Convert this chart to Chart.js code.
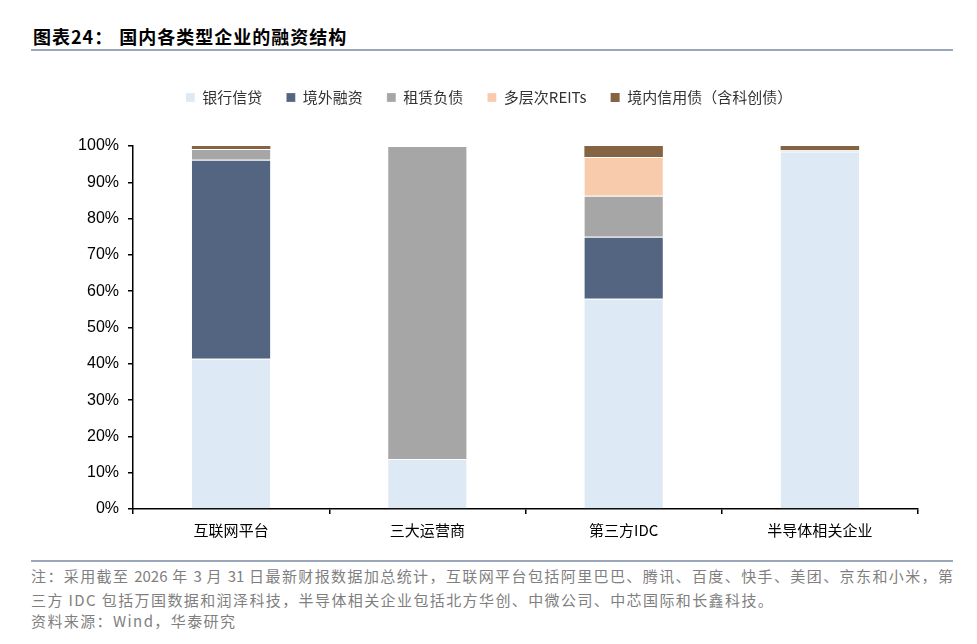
<!DOCTYPE html>
<html lang="zh-CN">
<head>
<meta charset="utf-8">
<title>国内各类型企业的融资结构</title>
<script src="https://cdn.jsdelivr.net/npm/chart.js@4.4.1/dist/chart.umd.min.js"></script>
<style>
    html, body { margin: 0; padding: 0; background: #fff; }
    body { width: 977px; height: 644px; position: relative; overflow: hidden; font-family: 'Noto Sans CJK SC', sans-serif; }
    .title { position: absolute; left: 33px; top: 23px; font-size: 18px; font-weight: 700; color: #000; white-space: nowrap; letter-spacing: 1px; }
    .title .gap { display: inline-block; width: 6px; }
    .rule { position: absolute; left: 31px; width: 922px; height: 2px; background: #9ba6b8; }
    .chart-box { position: absolute; left: 0; top: 80px; width: 977px; height: 480px; }
    .note { position: absolute; left: 31px; width: 922px; font-size: 15px; color: #7f7f7f; white-space: nowrap; letter-spacing: 1.4px; line-height: 20px; }
    .note.full { text-align: justify; text-align-last: justify; letter-spacing: 0; }
</style>
</head>
<body>
<div class="title">图表24：<span class="gap"></span>国内各类型企业的融资结构</div>
<div class="rule" style="top:49px"></div>
<div class="chart-box"><canvas id="structureChart"></canvas></div>
<div class="rule" style="top:560px"></div>
<div class="note full" style="top:566px">注：采用截至 2026 年 3 月 31 日最新财报数据加总统计，互联网平台包括阿里巴巴、腾讯、百度、快手、美团、京东和小米，第</div>
<div class="note" style="top:590px">三方 IDC 包括万国数据和润泽科技，半导体相关企业包括北方华创、中微公司、中芯国际和长鑫科技。</div>
<div class="note" style="top:611px">资料来源：Wind，华泰研究</div>

<script>
// 各类企业（横轴）
const categories = ['互联网平台', '三大运营商', '第三方IDC', '半导体相关企业'];
// 各融资渠道占比（%）
const bankCredit   = [41.4, 13.8, 57.9, 98.5];
const overseas     = [54.8, 0,    17.1, 0];
const leaseDebt    = [3.0,  86.2, 11.3, 0.3];
const reits        = [0,    0,    10.7, 0];
const domesticBond = [0.8,  0,    3.0,  1.2];
const yTicks = [0, 10, 20, 30, 40, 50, 60, 70, 80, 90, 100];

const seriesNames  = ['银行信贷', '境外融资', '租赁负债', '多层次REITs', '境内信用债（含科创债）'];
const seriesColors = ['#DDE9F5', '#536580', '#A6A6A6', '#F8CBAD', '#856444'];
const seriesValues = [bankCredit, overseas, leaseDebt, reits, domesticBond];

// 图例高度固定，让绘图区顶端对齐 100%；图例行再整体挪到原图的位置
const legendPlacePlugin = {
    id: 'legendPlace',
    beforeInit(chart) {
        const fit = chart.legend.fit;
        chart.legend.fit = function() {
            fit.bind(this)();
            this.height = 66;
        };
    },
    afterLayout(chart) {
        const lg = chart.legend;
        lg.top -= 14;
        lg.left += 30;
        lg.right += 30;
    }
};

const ctx = document.getElementById('structureChart').getContext('2d');
new Chart(ctx, {
    type: 'bar',
    data: {
        labels: categories,
        datasets: seriesValues.map((vals, i) => ({
            label: seriesNames[i],
            data: vals,
            backgroundColor: seriesColors[i],
            borderColor: '#ffffff',
            borderWidth: i < 4 ? { top: 1, left: 0, right: 0, bottom: 0 } : 0,
            borderSkipped: false,
            barPercentage: 0.4,
            categoryPercentage: 1
        }))
    },
    options: {
        responsive: true,
        maintainAspectRatio: false,
        animation: false,
        layout: { padding: { left: 0, right: 59, top: 0, bottom: 0 } },
        scales: {
            x: {
                stacked: true,
                grid: { display: true, drawOnChartArea: false, offset: true, tickLength: 5, color: '#000', lineWidth: 1.5 },
                border: { color: '#000', width: 1.5 },
                ticks: { color: '#000', padding: 7, font: { size: 15, family: "'Noto Sans CJK SC', sans-serif" } },
                afterFit(scale) { scale.height = 51; }
            },
            y: {
                stacked: true,
                min: 0,
                max: 100,
                afterBuildTicks(scale) { scale.ticks = yTicks.map(v => ({ value: v })); },
                grid: { display: true, drawOnChartArea: false, tickLength: 5, color: '#000', lineWidth: 1.5 },
                border: { color: '#000', width: 1.5 },
                ticks: { color: '#000', padding: 9, callback: (v) => v + '%', font: { size: 16, family: "'Liberation Sans', Arial, sans-serif" } },
                afterFit(scale) { scale.width = 133; }
            }
        },
        plugins: {
            legend: {
                position: 'top',
                labels: { boxWidth: 9, boxHeight: 9, padding: 24, color: '#333', font: { size: 15, family: "'Noto Sans CJK SC', sans-serif" } }
            },
            tooltip: { enabled: false }
        }
    },
    plugins: [legendPlacePlugin]
});
</script>
</body>
</html>
